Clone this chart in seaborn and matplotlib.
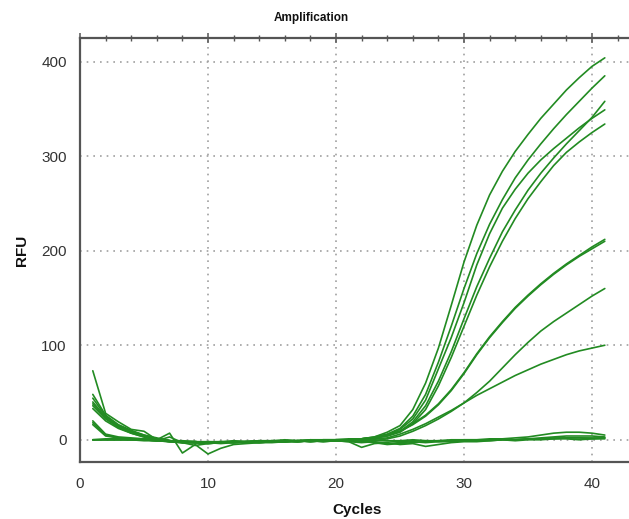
import numpy as np
import pandas as pd
import matplotlib
matplotlib.use("Agg")
import matplotlib.pyplot as plt
from matplotlib.ticker import MultipleLocator
import seaborn as sns

# qPCR amplification curves, cycles 1-41, baseline-subtracted RFU per well
cycles = list(range(1, 42))

well_a = [40, 24, 14, 8, 4, 1, -1, -2, -2, -3,
          -3, -2, -2, -1, -2, -1, -1, -2, -1, 0,
          0, 1, 3, 8,
          15, 32, 60, 97, 142, 188, 227, 259, 284, 305, 323, 340, 355, 370, 383, 395, 404]
well_b = [48, 26, 16, 10, 5, 2, -1, -2, -3, -3,
          -2, -3, -2, -2, -1, -2, -1, -1, 0, 0,
          1, 1, 3, 6,
          12, 25, 48, 82, 120, 160, 197, 228, 254, 277, 296, 313, 329, 344, 358, 372, 385]
well_c = [36, 22, 13, 7, 3, 0, -2, -3, -3, -4,
          -3, -3, -2, -3, -2, -2, -1, -2, -1, -1,
          0, 1, 2, 5,
          11, 22, 42, 75, 108, 145, 185, 218, 245, 265, 282, 296, 308, 319, 330, 340, 349]
well_d = [44, 25, 15, 9, 5, 1, -1, -3, -2, -4,
          -3, -2, -3, -2, -2, -1, -2, -1, -1, 0,
          0, 1, 2, 4,
          9, 19, 36, 62, 93, 128, 162, 192, 220, 243, 264, 282, 298, 313, 327, 341, 358]
well_e = [33, 20, 12, 7, 3, 0, -2, -3, -3, -3,
          -4, -3, -3, -2, -2, -2, -1, -1, -1, -1,
          0, 0, 2, 4,
          8, 17, 32, 57, 87, 120, 153, 183, 210, 234, 255, 273, 290, 304, 315, 325, 334]
well_f = [38, 23, 14, 8, 4, 1, -1, -2, -3, -3,
          -3, -2, -2, -2, -1, -2, -1, -1, 0, 0,
          0, 1, 2, 5,
          9, 16, 25, 37, 52, 70, 90, 108, 124, 139, 152, 164, 175, 185, 194, 202, 210]
well_g = [20, 6, 3, 2, 1, 0, -1, -2, -2, -3,
          -3, -2, -2, -3, -2, -1, -2, -1, -1, 0,
          0, 1, 2, 5,
          9, 17, 26, 38, 53, 71, 91, 109, 125, 140, 153, 165, 176, 186, 195, 204, 212]
well_h = [73, 28, 19, 11, 9, 0, 7, -14, -5, -15,
          -9, -5, -4, -3, -3, -2, -2, -1, -2, -1,
          -1, -2, -1, 1,
          4, 9, 15, 22, 30, 39, 50, 62, 76, 90, 103, 115, 125, 134, 143, 152, 160]
well_i = [18, 5, 2, 1, 0, -1, 3, -3, -6, -4,
          -3, -2, -3, -2, -2, -1, -1, -2, -1, -1,
          -1, 0, 1, 2,
          6, 11, 17, 24, 31, 39, 47, 54, 61, 68, 74, 80, 85, 90, 94, 97, 100]
well_j = [0, 0, 0, 0, -1, -1, -2, -2, -2, -3,
          -2, -3, -2, -2, -1, -2, -1, -1, -1, 0,
          -1, -2, -3, -5, -4, -3, -2, -1, -1, 0,
          0, 1, 1, 2, 3, 5, 7, 8, 8, 7, 5]
well_k = [0, 1, 1, 0, 0, -1, -2, -3, -3, -2,
          -3, -2, -3, -3, -2, -2, -2, -1, -2, -1,
          -2, -8, -4, -3, -5, -4, -7, -5, -3, -2,
          -2, -1, 0, 0, 1, 2, 3, 4, 4, 4, 3]
well_l = [0, 0, 0, 0, 0, -1, -1, -2, -2, -3,
          -3, -2, -2, -1, -2, -1, -1, 0, -1, 0,
          0, 0, -1, -1, -2, -1, -1, -2, -1, -1,
          -1, 0, 0, 0, 1, 1, 1, 2, 2, 1, 2]
well_m = [16, 4, 2, 1, 0, -1, -1, -2, -3, -3,
          -2, -3, -2, -2, -2, -1, -2, -1, -1, -1,
          -2, -3, -2, -4, -3, -2, -3, -2, -2, -1,
          -1, -1, 0, -1, 0, 0, 1, 1, 0, 1, 1]
well_n = [0, 0, 0, 0, 1, 0, -1, -1, -2, -2,
          -2, -1, -2, -1, -1, 0, -1, 0, 0, 0,
          0, -1, 0, -1, -1, 0, -1, -1, 0, 0,
          0, 0, 1, 0, 1, 1, 2, 2, 2, 2, 2]

wells = {
    "A1": well_a, "A2": well_b, "A3": well_c, "A4": well_d, "A5": well_e,
    "B1": well_f, "B2": well_g, "B3": well_h, "B4": well_i,
    "C1": well_j, "C2": well_k, "C3": well_l, "C4": well_m, "C5": well_n,
}

x_ticks = [0, 10, 20, 30, 40]
y_ticks = [0, 100, 200, 300, 400]

frames = [pd.DataFrame({"Cycle": cycles, "RFU": vals, "Well": name})
          for name, vals in wells.items()]
df = pd.concat(frames, ignore_index=True)

sns.set_style("white")
plt.rcParams["font.family"] = ["Liberation Sans", "DejaVu Sans"]

W, H = 629, 519
fig = plt.figure(figsize=(W / 100, H / 100), dpi=100)
left, right, top, bottom = 80, 634, 38, 462
ax = fig.add_axes([left / W, (H - bottom) / H, (right - left) / W, (bottom - top) / H])

sns.lineplot(data=df, x="Cycle", y="RFU", units="Well", estimator=None,
             color="#228b22", linewidth=1.2, ax=ax, legend=False)

ax.set_xlim(0, (right - left) / 12.8)
ax.set_ylim(-23.5, 425)
ax.set_xticks(x_ticks)
ax.set_yticks(y_ticks)
ax.xaxis.set_minor_locator(MultipleLocator(2))
ax.yaxis.set_minor_locator(MultipleLocator(20))

ax.grid(True, which="major", color="#a0a0a0", linestyle=(0, (1, 3)), linewidth=1.2)

for side in ("left", "bottom", "top"):
    ax.spines[side].set_visible(True)
    ax.spines[side].set_color("#555555")
    ax.spines[side].set_linewidth(1.6)
ax.spines["right"].set_visible(False)

ax.tick_params(axis="both", which="major", direction="inout", length=7,
               width=1.1, color="#555555", labelsize=11, labelcolor="#333333")
ax.tick_params(axis="both", which="minor", direction="inout", length=4,
               width=1.0, color="#555555")
ax.tick_params(axis="x", which="both", top=True, pad=7)
ax.tick_params(axis="y", which="major", pad=6)

ax.set_xlabel("Cycles", fontsize=11, fontweight="bold", color="#111111")
ax.set_ylabel("RFU", fontsize=11, fontweight="bold", color="#111111")
ax.xaxis.set_label_coords(0.5, -(503 - bottom) / (bottom - top))
ax.yaxis.set_label_coords(-(left - 29) / (right - left), 0.5)

fig.text(311 / W, 1 - 18 / H, "Amplification", ha="center", va="center",
         fontsize=8.5, fontweight="bold", color="#111111")

fig.savefig("out.png", dpi=100)
